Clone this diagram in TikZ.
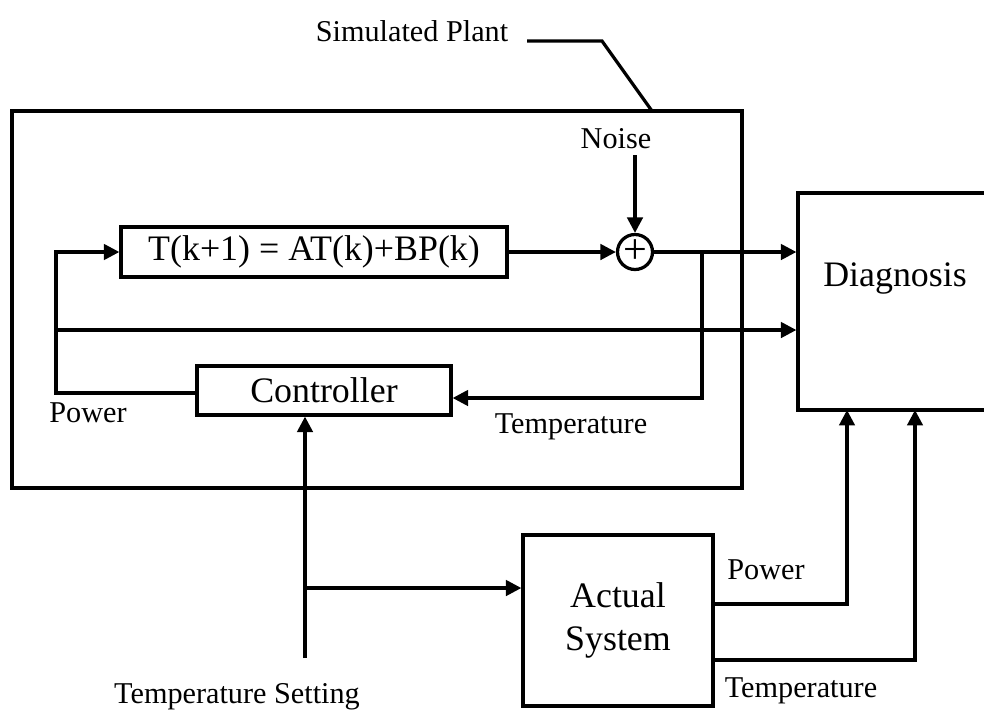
\documentclass[tikz,border=0pt]{standalone}
\usepackage{fontspec}
\setmainfont{Liberation Serif}
\usetikzlibrary{positioning,arrows.meta,calc}
\definecolor{ink}{HTML}{000000}
\newcommand\blkfont{\fontsize{25.5}{30.5}\selectfont}
\newcommand\labfont{\fontsize{21.5}{25}\selectfont}
\tikzset{
  flow/.style={-{Triangle[length=11pt,width=11pt]}, line width=2.3pt, color=ink},
  wire/.style={line width=2.3pt, color=ink},
  blk/.style={draw=ink, line width=2.3pt, inner sep=0pt, text=ink, font=\blkfont, align=center},
  sumj/.style={circle, draw=ink, line width=2.3pt, minimum size=0.875cm, inner sep=0pt,
    font=\fontsize{30}{30}\selectfont},
  lab/.style={font=\labfont, text=ink, inner sep=0pt},
}

\begin{document}
\begin{tikzpicture}[x=0.025cm,y=-0.025cm]
  \useasboundingbox (0,0) rectangle (984,719);
  \node[blk, minimum width=18.25cm, minimum height=9.425cm] (plant) at (377,299.5) {};
  \node[blk, minimum width=9.65cm, minimum height=1.25cm] (eq) at (314,252) {T(k+1) = AT(k)+BP(k)};
  \node[blk, minimum width=6.35cm, minimum height=1.225cm] (ctrl) at (324,390.5) {Controller};
  \node[sumj] (sum) at (635,252) {\raisebox{-1pt}{+}};
  \node[blk, minimum width=5.3cm, minimum height=5.425cm] (diag) at (904,301.5) {};
  \node[font=\blkfont, text=ink] (diagtxt) at (895,278) {Diagnosis};
  \node[blk, minimum width=4.75cm, minimum height=4.275cm] (act) at (618,620.5) {Actual\\System};

  \node[lab] (simlab) at (412,31) {Simulated Plant};
  \node[lab] (noise) at (616,139) {Noise};
  \node[lab] (pwlab) at (88,413) {Power};
  \node[lab] (tplab) at (571,427) {Temperature};
  \node[lab] (apwlab) at (766,570) {Power};
  \node[lab] (atplab) at (801,691) {Temperature};
  \node[lab] (tslab) at (237,697) {Temperature Setting};

  \coordinate (lead) at (527,41);
  \coordinate (bend) at (602,41);
  \coordinate (lk) at (652,111);
  \coordinate (nz) at (635,155);
  \coordinate (pc) at (56,393);
  \coordinate (pt) at (56,252);
  \coordinate (pb) at (56,330);
  \coordinate (tb) at (702,252);
  \coordinate (tc) at (702,398);
  \coordinate (ts) at (305,658);
  \coordinate (tj) at (305,588);
  \coordinate (ap) at (713,604);
  \coordinate (ad) at (847,410);
  \coordinate (at) at (713,660);
  \coordinate (td) at (915,410);

  \draw[wire] (lead) -- (bend) -- (lk);
  \draw[flow] (nz) -- (sum.north);
  \draw[flow] (eq.east) -- (sum.west);
  \draw[flow] (sum.east) -- (sum -| diag.west);
  \draw[flow] (ctrl.west |- pc) -- (pc) -- (pt) -- (eq.west);
  \draw[flow] (pb) -- (pb -| diag.west);
  \draw[flow] (tb) -- (tc) -- (tc -| ctrl.east);
  \draw[flow] (ts) -- (ts |- ctrl.south);
  \draw[flow] (tj) -- (tj -| act.west);
  \draw[flow] (ap) -| (ad);
  \draw[flow] (at) -| (td);
\end{tikzpicture}
\end{document}
